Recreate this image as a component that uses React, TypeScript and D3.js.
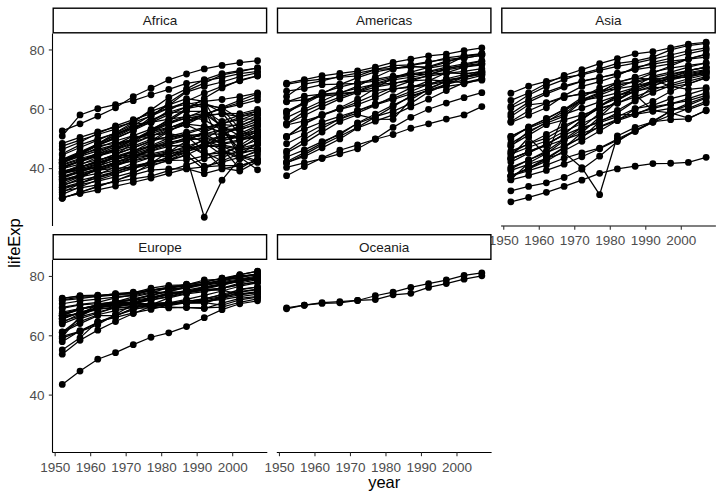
import React from 'react';
import * as d3 from 'd3';

type Row = [string, number[]];

const years = [1952, 1957, 1962, 1967, 1972, 1977, 1982, 1987, 1992, 1997, 2002, 2007];
const continents = ['Africa', 'Americas', 'Asia', 'Europe', 'Oceania'];
const xTicks = [1950, 1960, 1970, 1980, 1990, 2000];
const yTicks = [40, 60, 80];

const africa: Row[] = [
  ['Algeria', [43.1, 45.7, 48.3, 51.4, 54.5, 58.0, 61.4, 65.8, 67.7, 69.2, 71.0, 72.3]],
  ['Angola', [30.0, 32.0, 34.0, 36.0, 37.9, 39.5, 39.9, 39.9, 40.6, 41.0, 41.0, 42.7]],
  ['Benin', [38.2, 40.4, 42.6, 44.9, 47.0, 49.2, 50.9, 52.3, 53.9, 54.8, 54.4, 56.7]],
  ['Botswana', [47.6, 49.6, 51.5, 53.3, 56.0, 59.3, 61.5, 63.6, 62.7, 52.6, 46.6, 50.7]],
  ['Burkina Faso', [32.0, 34.9, 37.8, 40.7, 43.6, 46.1, 48.1, 49.6, 50.3, 50.3, 50.7, 52.3]],
  ['Burundi', [39.0, 40.5, 42.0, 43.5, 44.1, 45.9, 47.5, 48.2, 44.7, 45.3, 47.4, 49.6]],
  ['Cameroon', [38.5, 40.4, 42.6, 44.8, 47.0, 49.4, 53.0, 55.0, 54.3, 52.2, 49.9, 50.4]],
  ['Central African Republic', [35.5, 37.5, 39.5, 41.5, 43.5, 46.8, 48.3, 50.5, 49.4, 46.1, 43.3, 44.7]],
  ['Chad', [38.1, 39.9, 41.7, 43.6, 45.6, 47.4, 49.5, 51.1, 51.7, 51.6, 50.5, 50.7]],
  ['Comoros', [40.7, 42.5, 44.5, 46.5, 48.9, 50.9, 52.9, 54.9, 57.9, 60.7, 63.0, 65.2]],
  ['Congo, Dem. Rep.', [39.1, 40.7, 42.1, 44.1, 46.0, 47.8, 47.8, 47.4, 45.5, 42.6, 45.0, 46.5]],
  ['Congo, Rep.', [42.1, 45.1, 48.4, 52.0, 54.9, 55.6, 56.7, 57.5, 56.4, 53.0, 53.0, 55.3]],
  ["Cote d'Ivoire", [40.5, 42.5, 44.9, 47.4, 49.8, 52.4, 54.0, 54.7, 52.0, 48.0, 46.8, 48.3]],
  ['Djibouti', [34.8, 37.3, 39.7, 42.1, 44.4, 46.5, 48.8, 50.0, 51.6, 53.2, 53.4, 54.8]],
  ['Egypt', [41.9, 44.4, 47.0, 49.3, 51.1, 53.3, 56.0, 59.8, 63.7, 67.2, 69.8, 71.3]],
  ['Equatorial Guinea', [34.5, 36.0, 37.5, 39.0, 40.5, 42.0, 43.7, 45.7, 47.5, 48.2, 49.3, 51.6]],
  ['Eritrea', [35.9, 38.0, 40.2, 42.2, 44.1, 44.5, 43.9, 46.5, 50.0, 53.4, 55.2, 58.0]],
  ['Ethiopia', [34.1, 36.7, 40.1, 42.1, 43.5, 44.5, 44.9, 46.7, 48.1, 49.4, 50.7, 52.9]],
  ['Gabon', [37.0, 39.0, 40.5, 44.6, 48.7, 52.8, 56.6, 60.2, 61.4, 60.5, 56.8, 56.7]],
  ['Gambia', [30.0, 32.1, 33.9, 35.9, 38.3, 41.8, 45.6, 49.3, 52.6, 55.9, 58.0, 59.4]],
  ['Ghana', [43.1, 44.8, 46.5, 48.1, 49.9, 51.8, 53.7, 55.7, 57.5, 58.6, 58.5, 60.0]],
  ['Guinea', [33.6, 34.6, 35.8, 37.2, 38.8, 40.8, 42.9, 45.6, 48.6, 51.5, 53.7, 56.0]],
  ['Guinea-Bissau', [32.5, 33.5, 34.5, 35.5, 36.5, 37.5, 39.3, 41.2, 43.3, 44.9, 45.5, 46.4]],
  ['Kenya', [42.3, 44.7, 47.9, 50.7, 53.6, 56.2, 58.8, 59.3, 59.3, 54.4, 51.0, 54.1]],
  ['Lesotho', [42.1, 45.0, 47.7, 48.5, 49.8, 52.2, 55.1, 57.2, 59.7, 55.6, 44.6, 42.6]],
  ['Liberia', [38.5, 39.5, 40.5, 41.5, 42.6, 43.8, 44.9, 46.0, 40.8, 42.2, 43.8, 45.7]],
  ['Libya', [42.7, 45.3, 47.8, 50.2, 52.8, 57.4, 62.2, 66.2, 68.8, 71.6, 72.7, 74.0]],
  ['Madagascar', [36.7, 38.9, 40.8, 42.9, 44.9, 46.9, 49.0, 49.4, 52.2, 55.0, 57.3, 59.4]],
  ['Malawi', [36.3, 37.2, 38.4, 39.5, 41.8, 43.8, 45.6, 47.5, 49.4, 47.5, 45.0, 48.3]],
  ['Mali', [33.7, 35.3, 36.9, 38.5, 40.0, 41.7, 43.9, 46.4, 48.4, 49.9, 51.8, 54.5]],
  ['Mauritania', [40.5, 42.3, 44.2, 46.3, 48.4, 50.9, 53.6, 56.1, 58.3, 60.4, 62.2, 64.2]],
  ['Mauritius', [51.0, 58.1, 60.2, 61.6, 62.9, 64.9, 66.7, 68.7, 69.7, 70.7, 72.0, 72.8]],
  ['Morocco', [42.9, 45.4, 47.9, 50.3, 52.9, 55.7, 59.6, 62.7, 65.4, 67.7, 69.6, 71.2]],
  ['Mozambique', [31.3, 33.8, 36.2, 38.1, 40.3, 42.5, 42.8, 42.9, 44.3, 46.3, 44.0, 42.1]],
  ['Namibia', [41.7, 45.2, 48.4, 51.2, 53.9, 56.4, 59.0, 60.8, 62.0, 58.9, 51.5, 52.9]],
  ['Niger', [37.4, 38.6, 39.5, 40.1, 40.5, 41.3, 42.6, 44.6, 47.4, 51.3, 54.5, 56.9]],
  ['Nigeria', [36.3, 37.8, 39.4, 41.0, 42.8, 44.5, 45.8, 46.9, 47.5, 47.5, 46.6, 46.9]],
  ['Reunion', [52.7, 55.1, 57.7, 60.5, 64.3, 67.1, 69.9, 71.9, 73.6, 74.8, 75.7, 76.4]],
  ['Rwanda', [40.0, 41.5, 43.0, 44.1, 44.6, 45.0, 46.2, 44.0, 23.6, 36.1, 43.4, 46.2]],
  ['Sao Tome and Principe', [46.5, 48.9, 51.9, 54.4, 56.5, 58.5, 60.4, 61.7, 62.7, 63.3, 64.3, 65.5]],
  ['Senegal', [37.3, 39.3, 41.5, 43.6, 45.8, 48.9, 52.4, 55.8, 58.2, 60.2, 61.6, 63.1]],
  ['Sierra Leone', [30.3, 31.6, 32.8, 34.1, 35.4, 36.8, 38.4, 40.0, 38.3, 39.9, 41.0, 42.6]],
  ['Somalia', [33.0, 35.0, 37.0, 39.0, 41.0, 42.0, 43.0, 44.5, 39.7, 43.8, 45.9, 48.2]],
  ['South Africa', [45.0, 48.0, 50.0, 51.9, 53.7, 55.5, 58.2, 60.8, 61.9, 60.2, 53.4, 49.3]],
  ['Sudan', [38.6, 39.6, 40.9, 42.9, 45.1, 47.8, 50.3, 51.7, 53.6, 55.4, 56.4, 58.6]],
  ['Swaziland', [41.4, 43.4, 45.0, 46.6, 49.6, 52.5, 55.6, 57.7, 58.5, 54.3, 43.9, 39.6]],
  ['Tanzania', [41.2, 43.0, 44.2, 45.8, 47.6, 49.9, 50.6, 51.5, 50.4, 48.5, 49.7, 52.5]],
  ['Togo', [38.6, 41.2, 43.9, 46.8, 49.8, 52.9, 55.5, 56.9, 58.1, 58.4, 57.6, 58.4]],
  ['Tunisia', [44.6, 47.1, 49.6, 52.1, 55.6, 59.8, 64.0, 66.9, 70.0, 72.0, 73.0, 73.9]],
  ['Uganda', [40.0, 42.6, 45.3, 48.1, 51.0, 50.4, 49.8, 51.5, 48.8, 44.6, 47.8, 51.5]],
  ['Zambia', [42.0, 44.1, 46.0, 47.8, 50.1, 51.4, 51.8, 50.8, 46.1, 40.2, 39.2, 42.4]],
  ['Zimbabwe', [48.5, 50.5, 52.4, 54.0, 55.6, 57.7, 60.4, 62.4, 60.4, 46.8, 40.0, 43.5]],
];

const americas: Row[] = [
  ['Argentina', [62.5, 64.4, 65.1, 65.6, 67.1, 68.5, 69.9, 70.8, 71.9, 73.3, 74.3, 75.3]],
  ['Bolivia', [40.4, 41.9, 43.4, 45.0, 46.7, 50.0, 53.9, 57.3, 60.0, 62.1, 63.9, 65.6]],
  ['Brazil', [50.9, 53.3, 55.7, 57.6, 59.5, 61.5, 63.3, 65.2, 67.1, 69.4, 71.0, 72.4]],
  ['Canada', [68.8, 70.0, 71.3, 72.1, 72.9, 74.2, 75.8, 76.9, 78.0, 78.6, 79.8, 80.7]],
  ['Chile', [54.7, 56.1, 57.9, 60.5, 63.4, 67.1, 70.6, 72.5, 74.1, 75.8, 77.9, 78.6]],
  ['Colombia', [50.6, 55.1, 57.9, 60.0, 61.6, 63.8, 66.7, 67.8, 68.4, 70.3, 71.7, 72.9]],
  ['Costa Rica', [57.2, 60.0, 62.8, 65.4, 67.8, 70.8, 73.5, 74.8, 75.7, 77.3, 78.1, 78.8]],
  ['Cuba', [59.4, 62.3, 65.2, 68.3, 70.7, 72.6, 73.7, 74.2, 74.4, 76.2, 77.2, 78.3]],
  ['Dominican Republic', [45.9, 49.8, 53.5, 56.8, 59.6, 61.8, 63.7, 66.0, 68.5, 70.0, 70.8, 72.2]],
  ['Ecuador', [48.4, 51.4, 54.6, 56.7, 58.8, 61.3, 64.3, 67.2, 69.6, 72.3, 74.2, 75.0]],
  ['El Salvador', [45.3, 48.6, 52.3, 55.9, 58.2, 56.7, 56.6, 63.2, 66.8, 69.5, 70.7, 71.9]],
  ['Guatemala', [42.0, 44.1, 47.0, 50.0, 53.7, 56.0, 58.1, 60.8, 63.4, 66.3, 69.0, 70.3]],
  ['Haiti', [37.6, 40.7, 43.6, 46.2, 48.0, 49.9, 51.5, 53.6, 55.1, 56.7, 58.1, 60.9]],
  ['Honduras', [41.9, 44.7, 48.0, 50.9, 53.9, 57.4, 60.9, 64.5, 66.4, 67.7, 68.6, 70.2]],
  ['Jamaica', [58.5, 62.6, 65.6, 67.5, 69.0, 70.1, 71.2, 71.8, 71.8, 72.3, 72.0, 72.6]],
  ['Mexico', [50.8, 55.2, 58.3, 60.1, 62.4, 65.0, 67.4, 69.5, 71.5, 73.7, 74.9, 76.2]],
  ['Nicaragua', [42.3, 45.4, 48.6, 51.9, 55.2, 57.5, 59.3, 62.0, 65.8, 68.4, 70.8, 72.9]],
  ['Panama', [55.2, 59.2, 61.8, 64.1, 66.2, 68.7, 70.5, 71.5, 72.5, 73.7, 74.7, 75.5]],
  ['Paraguay', [62.6, 63.2, 64.4, 65.0, 65.8, 66.4, 66.9, 67.4, 68.2, 69.4, 70.8, 71.8]],
  ['Peru', [43.9, 46.3, 49.1, 51.4, 55.4, 58.4, 61.4, 64.1, 66.5, 68.4, 69.9, 71.4]],
  ['Puerto Rico', [64.3, 68.5, 69.6, 71.1, 72.2, 73.4, 73.8, 74.6, 73.9, 74.9, 77.8, 78.7]],
  ['Trinidad and Tobago', [59.1, 61.8, 64.9, 65.4, 65.9, 68.3, 68.8, 69.6, 69.9, 69.5, 69.0, 69.8]],
  ['United States', [68.4, 69.5, 70.2, 70.8, 71.3, 73.4, 74.7, 75.0, 76.1, 76.8, 77.3, 78.2]],
  ['Uruguay', [66.1, 67.0, 68.3, 68.5, 68.7, 69.5, 70.8, 71.9, 72.8, 74.2, 75.3, 76.4]],
  ['Venezuela', [55.1, 57.9, 60.8, 63.5, 65.7, 67.5, 68.6, 70.2, 71.2, 72.1, 72.8, 73.7]],
];

const asia: Row[] = [
  ['Afghanistan', [28.8, 30.3, 32.0, 34.0, 36.1, 38.4, 39.9, 40.8, 41.7, 41.8, 42.1, 43.8]],
  ['Bahrain', [50.9, 53.8, 56.9, 59.9, 63.3, 65.6, 69.1, 70.8, 72.6, 73.9, 74.8, 75.6]],
  ['Bangladesh', [37.5, 39.3, 41.2, 43.5, 45.3, 46.9, 50.0, 52.8, 56.0, 59.4, 62.0, 64.1]],
  ['Cambodia', [39.4, 41.4, 43.4, 45.4, 40.3, 31.2, 51.0, 53.9, 55.8, 56.5, 56.8, 59.7]],
  ['China', [44.0, 50.5, 44.5, 58.4, 63.1, 64.0, 65.5, 67.3, 68.7, 70.4, 72.0, 73.0]],
  ['Hong Kong', [61.0, 64.8, 67.7, 70.0, 72.0, 73.6, 75.5, 76.2, 77.6, 80.0, 81.5, 82.2]],
  ['India', [37.4, 40.2, 43.6, 47.2, 50.7, 54.2, 56.6, 58.6, 60.2, 61.8, 62.9, 64.7]],
  ['Indonesia', [37.5, 39.9, 42.5, 46.0, 49.2, 52.7, 56.2, 60.1, 62.7, 66.0, 68.6, 70.7]],
  ['Iran', [44.9, 47.2, 49.3, 52.5, 55.2, 57.7, 59.6, 63.0, 65.7, 68.0, 69.5, 71.0]],
  ['Iraq', [45.3, 48.4, 51.5, 54.5, 57.0, 60.4, 62.0, 65.0, 59.5, 58.8, 57.0, 59.5]],
  ['Israel', [65.4, 67.8, 69.4, 70.8, 71.6, 73.1, 74.5, 75.6, 76.9, 78.3, 79.7, 80.7]],
  ['Japan', [63.0, 65.5, 68.7, 71.4, 73.4, 75.4, 77.1, 78.7, 79.4, 80.7, 82.0, 82.6]],
  ['Jordan', [43.2, 45.7, 48.1, 51.6, 56.5, 61.1, 63.7, 65.9, 68.0, 69.8, 71.3, 72.5]],
  ['Korea, Dem. Rep.', [50.1, 54.1, 56.7, 59.9, 64.0, 67.2, 69.1, 70.6, 70.0, 67.7, 66.7, 67.3]],
  ['Korea, Rep.', [47.5, 52.7, 55.3, 57.7, 62.6, 64.8, 67.1, 69.8, 72.2, 74.6, 77.0, 78.6]],
  ['Kuwait', [55.6, 58.0, 60.5, 64.6, 67.7, 69.3, 71.3, 74.2, 75.2, 76.2, 76.9, 77.6]],
  ['Lebanon', [55.9, 59.5, 62.1, 63.9, 65.4, 66.1, 67.0, 67.9, 69.3, 70.3, 71.0, 72.0]],
  ['Malaysia', [48.5, 52.1, 55.7, 59.4, 63.0, 65.3, 68.0, 69.5, 70.7, 71.9, 73.0, 74.2]],
  ['Mongolia', [42.2, 45.2, 48.3, 51.3, 53.8, 55.5, 57.5, 60.2, 61.3, 63.6, 65.0, 66.8]],
  ['Myanmar', [36.3, 41.9, 45.1, 49.4, 53.1, 56.1, 58.1, 58.3, 59.3, 60.3, 59.9, 62.1]],
  ['Nepal', [36.2, 37.7, 39.4, 41.5, 44.0, 46.7, 49.6, 52.5, 55.7, 59.4, 61.3, 63.8]],
  ['Oman', [37.6, 40.1, 43.2, 47.0, 52.1, 57.4, 62.7, 67.7, 71.2, 72.5, 74.2, 75.6]],
  ['Pakistan', [43.4, 45.6, 47.7, 49.8, 51.9, 54.0, 56.2, 58.2, 60.8, 61.8, 63.6, 65.5]],
  ['Philippines', [47.8, 51.3, 54.8, 56.4, 58.1, 60.1, 62.1, 64.2, 66.5, 68.6, 70.3, 71.7]],
  ['Saudi Arabia', [39.9, 42.9, 45.9, 49.9, 53.9, 58.7, 63.0, 66.3, 68.8, 70.5, 71.6, 72.8]],
  ['Singapore', [60.4, 63.2, 65.8, 67.9, 69.5, 70.8, 71.8, 73.6, 75.8, 77.2, 78.8, 80.0]],
  ['Sri Lanka', [57.6, 61.5, 62.2, 64.3, 65.0, 65.9, 68.8, 69.0, 70.4, 70.5, 70.8, 72.4]],
  ['Syria', [45.9, 48.3, 50.3, 53.7, 57.3, 61.2, 64.6, 67.0, 69.2, 71.5, 73.1, 74.1]],
  ['Taiwan', [58.5, 62.4, 65.2, 67.5, 69.4, 70.6, 72.2, 73.4, 74.3, 75.3, 77.0, 78.4]],
  ['Thailand', [50.8, 53.6, 56.1, 58.3, 60.4, 62.5, 64.6, 66.1, 67.3, 67.5, 68.6, 70.6]],
  ['Vietnam', [40.4, 42.9, 45.4, 47.8, 50.3, 55.8, 58.8, 62.8, 67.7, 70.7, 73.0, 74.2]],
  ['West Bank and Gaza', [43.2, 45.7, 48.1, 51.6, 56.5, 60.8, 64.4, 67.0, 69.7, 71.1, 72.4, 73.4]],
  ['Yemen, Rep.', [32.5, 34.0, 35.2, 37.0, 39.8, 44.2, 49.1, 52.9, 55.6, 58.0, 60.3, 62.7]],
];

const europe: Row[] = [
  ['Albania', [55.2, 59.3, 64.8, 66.2, 67.7, 68.9, 70.4, 72.0, 71.6, 73.0, 75.7, 76.4]],
  ['Austria', [66.8, 67.5, 69.5, 70.1, 70.6, 72.2, 73.2, 74.9, 76.0, 77.5, 79.0, 79.8]],
  ['Belgium', [68.0, 69.2, 70.3, 70.9, 71.4, 72.8, 73.9, 75.4, 76.5, 77.5, 78.3, 79.4]],
  ['Bosnia and Herzegovina', [53.8, 58.5, 61.9, 64.8, 67.5, 69.9, 70.7, 71.1, 72.2, 73.2, 74.1, 74.9]],
  ['Bulgaria', [59.6, 66.6, 69.5, 70.4, 70.9, 70.8, 71.1, 71.3, 71.2, 70.3, 72.1, 73.0]],
  ['Croatia', [61.2, 64.8, 67.1, 68.5, 69.6, 70.6, 70.5, 71.5, 72.5, 73.7, 74.9, 75.7]],
  ['Czech Republic', [66.9, 69.0, 69.9, 70.4, 70.3, 70.7, 71.0, 71.6, 72.4, 74.0, 75.5, 76.5]],
  ['Denmark', [70.8, 71.8, 72.4, 73.0, 73.5, 74.7, 74.6, 74.8, 75.3, 76.1, 77.2, 78.3]],
  ['Finland', [66.6, 67.5, 68.8, 69.8, 70.9, 72.5, 74.6, 74.8, 75.7, 77.1, 78.4, 79.3]],
  ['France', [67.4, 68.9, 70.5, 71.6, 72.4, 73.8, 74.9, 76.3, 77.5, 78.6, 79.6, 80.7]],
  ['Germany', [67.5, 69.1, 70.3, 70.8, 71.0, 72.5, 73.8, 74.8, 76.1, 77.3, 78.7, 79.4]],
  ['Greece', [65.9, 67.9, 69.5, 71.0, 72.3, 73.7, 75.2, 76.7, 77.0, 77.9, 78.3, 79.5]],
  ['Hungary', [64.0, 66.4, 68.0, 69.5, 69.8, 70.0, 69.4, 69.6, 69.2, 71.0, 72.6, 73.3]],
  ['Iceland', [72.5, 73.5, 73.7, 73.7, 74.5, 76.1, 77.0, 77.2, 78.8, 79.0, 80.5, 81.8]],
  ['Ireland', [66.9, 68.9, 70.3, 71.1, 71.3, 72.0, 73.1, 74.4, 75.5, 76.1, 77.8, 78.9]],
  ['Italy', [65.9, 67.8, 69.2, 71.1, 72.2, 73.5, 75.0, 76.4, 77.4, 78.8, 80.2, 80.5]],
  ['Montenegro', [59.2, 61.4, 63.7, 67.2, 70.6, 73.1, 74.1, 74.9, 75.4, 75.4, 74.0, 74.5]],
  ['Netherlands', [72.1, 73.0, 73.2, 73.8, 73.8, 75.2, 76.1, 76.8, 77.4, 78.0, 78.5, 79.8]],
  ['Norway', [72.7, 73.4, 73.5, 74.1, 74.3, 75.4, 76.0, 75.9, 77.3, 78.3, 79.1, 80.2]],
  ['Poland', [61.3, 65.8, 67.6, 69.6, 70.9, 70.7, 71.3, 71.0, 71.0, 72.8, 74.7, 75.6]],
  ['Portugal', [59.8, 61.5, 64.4, 66.6, 69.3, 70.4, 72.8, 74.1, 74.9, 76.0, 77.3, 78.1]],
  ['Romania', [61.1, 64.1, 66.8, 66.8, 69.2, 69.5, 69.7, 69.5, 69.4, 69.7, 71.3, 72.5]],
  ['Serbia', [58.0, 61.7, 64.5, 66.9, 68.7, 70.3, 70.2, 71.2, 71.7, 72.2, 73.2, 74.0]],
  ['Slovak Republic', [64.4, 67.5, 70.3, 71.0, 70.4, 70.5, 70.8, 71.1, 71.4, 72.7, 73.8, 74.7]],
  ['Slovenia', [65.6, 67.9, 69.2, 69.2, 69.8, 71.0, 71.1, 72.3, 73.6, 75.1, 76.7, 77.9]],
  ['Spain', [64.9, 66.7, 69.7, 71.4, 73.1, 74.4, 76.3, 76.9, 77.6, 78.8, 79.8, 80.9]],
  ['Sweden', [71.9, 72.5, 73.4, 74.2, 74.7, 75.4, 76.4, 77.2, 78.2, 79.4, 80.0, 80.9]],
  ['Switzerland', [69.6, 70.6, 71.3, 72.8, 73.8, 75.4, 76.2, 77.4, 78.0, 79.4, 80.6, 81.7]],
  ['Turkey', [43.6, 48.1, 52.1, 54.3, 57.0, 59.5, 61.0, 63.1, 66.1, 68.8, 70.8, 71.8]],
  ['United Kingdom', [69.2, 70.4, 70.8, 71.4, 72.0, 72.8, 74.0, 75.0, 76.4, 77.2, 78.5, 79.4]],
];

const oceania: Row[] = [
  ['Australia', [69.1, 70.3, 70.9, 71.1, 71.9, 73.5, 74.7, 76.3, 77.6, 78.8, 80.4, 81.2]],
  ['New Zealand', [69.4, 70.3, 71.2, 71.5, 71.9, 72.2, 73.8, 74.3, 76.3, 77.6, 79.1, 80.2]],
];

const groups: Row[][] = [africa, americas, asia, europe, oceania];

const W = 717;
const H = 492;
const left = 52.5;
const panelW = 214.8;
const gapX = 9.5;
const rowTop = [33.5, 260];
const panelH = 192.5;
const stripH = 26;
const font = '"Liberation Sans", Arial, Helvetica, sans-serif';

const pad = (lo: number, hi: number) => {
  const d = (hi - lo) * 0.05;
  return [lo - d, hi + d];
};

export default function App() {
  const allVals = groups.flatMap(g => g.flatMap(r => r[1]));
  const yr = d3.extent(years) as [number, number];
  const lv = d3.extent(allVals) as [number, number];

  const x = d3.scaleLinear().domain(pad(yr[0], yr[1])).range([0, panelW]);
  const y = d3.scaleLinear().domain(pad(lv[0], lv[1])).range([panelH, 0]);

  const line = d3.line<number>()
    .x((_, i) => x(years[i]))
    .y(v => y(v));

  const panels = continents.map((name, i) => ({
    name,
    rows: groups[i],
    px: left + (i % 3) * (panelW + gapX),
    py: rowTop[Math.floor(i / 3)],
    // x axis where nothing sits below, y axis on the first column
    xAxis: i + 3 >= continents.length,
    yAxis: i % 3 === 0,
  }));

  return (
    <svg width={W} height={H} style={{ position: 'absolute', left: 0, top: 0, background: '#fff' }}
      fontFamily={font}>
      {panels.map(p => (
        <g key={p.name} transform={`translate(${p.px},${p.py})`}>
          {p.rows.map(r => (
            <path key={r[0]} d={line(r[1]) || ''} fill="none" stroke="#000" strokeWidth={1.25} />
          ))}
          {p.rows.map(r => r[1].map((v, i) => (
            <circle key={r[0] + i} cx={x(years[i])} cy={y(v)} r={3.4} fill="#000" />
          )))}
          {p.yAxis && (
            <g>
              <line x1={0} x2={0} y1={0} y2={panelH} stroke="#000" strokeWidth={1.1} />
              {yTicks.map(t => (
                <g key={t} transform={`translate(0,${y(t)})`}>
                  <line x1={-3.7} x2={0} stroke="#333" strokeWidth={1.1} />
                  <text x={-8} dy="0.35em" textAnchor="end" fontSize={13.5} fill="#4d4d4d">{t}</text>
                </g>
              ))}
            </g>
          )}
          {p.xAxis && (
            <g transform={`translate(0,${panelH})`}>
              <line x1={0} x2={panelW} stroke="#000" strokeWidth={1.1} />
              {xTicks.map(t => (
                <g key={t} transform={`translate(${x(t)},0)`}>
                  <line y1={0} y2={3.7} stroke="#333" strokeWidth={1.1} />
                  <text y={19} textAnchor="middle" fontSize={13.5} fill="#4d4d4d">{t}</text>
                </g>
              ))}
            </g>
          )}
        </g>
      ))}
      {panels.map(p => (
        <g key={'s' + p.name} transform={`translate(${p.px},${p.py - stripH})`}>
          <rect x={0.7} y={0.7} width={panelW - 1.4} height={stripH - 1.4} fill="#fff" stroke="#000" strokeWidth={1.4} />
          <text x={panelW / 2} y={stripH / 2} dy="0.35em" textAnchor="middle" fontSize={13.5} fill="#1a1a1a">{p.name}</text>
        </g>
      ))}
      <text x={left + (3 * panelW + 2 * gapX) / 2} y={488} textAnchor="middle" fontSize={16.5} fill="#000">year</text>
      <text transform={`translate(20,243) rotate(-90)`} textAnchor="middle" fontSize={16.5} fill="#000">lifeExp</text>
    </svg>
  );
}
